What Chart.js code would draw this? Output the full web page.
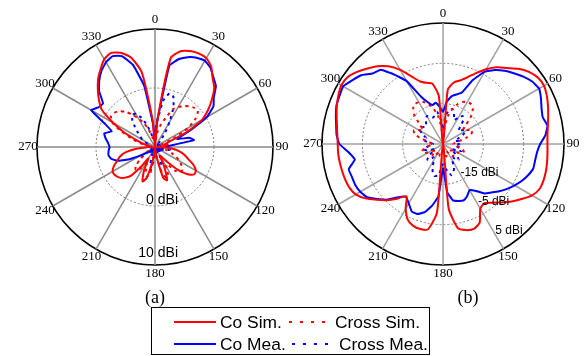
<!DOCTYPE html>
<html>
<head>
<meta charset="utf-8">
<script src="https://cdn.jsdelivr.net/npm/chart.js@4.4.1/dist/chart.umd.min.js"></script>
<style>
  html, body { margin: 0; padding: 0; background: #fff; }
  body { width: 584px; height: 356px; position: relative; overflow: hidden; font-family: "Liberation Sans", Arial, sans-serif; }
  #wrapA { position: absolute; left: 0; top: 0; }
  #wrapB { position: absolute; left: 292px; top: 0; }
  .cap { position: absolute; top: 286px; font: 18px "Liberation Serif", "Times New Roman", serif; transform: translateX(-50%); line-height: 22px; }
  #legend { position: absolute; left: 151px; top: 307px; width: 279px; height: 48px; border: 1px solid #000; box-sizing: border-box; }
  #legend .ln { position: absolute; height: 2px; }
  #legend .txt { position: absolute; font-size: 17.4px; line-height: 20px; white-space: nowrap; }
</style>
</head>
<body>
<div id="wrapA"><canvas id="chartA" width="300" height="290"></canvas></div>
<div id="wrapB"><canvas id="chartB" width="292" height="290"></canvas></div>
<div class="cap" style="left:155px">(a)</div>
<div class="cap" style="left:468px">(b)</div>
<div id="legend">
  <div class="ln" style="left:22px; top:13px; width:42px; background:#f00"></div>
  <div class="txt" style="left:68px; top:4px">Co Sim.</div>
  <div class="ln" style="left:137px; top:13px; width:38px; background:repeating-linear-gradient(to right,#f00 0 3px,transparent 3px 11px)"></div>
  <div class="txt" style="left:183px; top:4px">Cross Sim.</div>
  <div class="ln" style="left:22px; top:35px; width:42px; background:#00f"></div>
  <div class="txt" style="left:68px; top:26px">Co Mea.</div>
  <div class="ln" style="left:140px; top:35px; width:38px; background:repeating-linear-gradient(to right,#00f 0 3px,transparent 3px 11px)"></div>
  <div class="txt" style="left:187px; top:26px">Cross Mea.</div>
</div>
<script>
// Azimuth of each sample (degrees, clockwise from the top)
const angles = ['0','5','10','15','20','25','30','35','40','45','50','55',
  '60','65','70','75','80','85','90','95','100','105','110','115',
  '120','125','130','135','140','145','150','155','160','165','170','175',
  '180','185','190','195','200','205','210','215','220','225','230','235',
  '240','245','250','255','260','265','270','275','280','285','290','295',
  '300','305','310','315','320','325','330','335','340','345','350','355'];

// Spoke labels shown around each pattern
const spokeLabels = ['0','30','60','90','120','150','180','210','240','270','300','330'];

// Gain ring labels
const ringValuesA = [0, 10];
const ringLabelsA = ['0 dBi', '10 dBi'];
const ringValuesB = [-15, -5, 5];
const ringLabelsB = ['-15 dBi', '-5 dBi', '5 dBi'];

// Pattern (a), gain in dBi
const coSimA = [-10, -5.5, 5.3, 6.8, 7.3, 7.5, 7.4, 6.6, 5.2, 4.2, 2.6, 1.0,
  -0.8, -4.3, -7.5, -8.3, -7.8, -8.8, -9.6, -7.2, -5.8, -4.8, -4.0, -2.8,
  -2.0, -1.9, -2.8, -4.5, -6.5, -7.8, -8.3, -6.3, -4.0, -4.6, -8.0, -9.6,
  -10, -9.6, -7.5, -4.6, -3.8, -5.6, -7.8, -6.0, -3.6, -2.6, -2.0, -1.7,
  -1.7, -2.3, -3.2, -3.9, -5.0, -7.0, -8.8, -9.4, -8.8, -8.0, -6.8, -4.3,
  -1.8, 1.0, 2.4, 3.7, 5.0, 6.1, 7.2, 7.6, 7.0, 5.7, 2.8, -5.5];
const coMeaA = [-9, -5.5, 4.0, 5.4, 6.2, 6.7, 6.9, 6.4, 5.4, 4.6, 3.0, 2.1,
  0.2, -3.5, -6.0, -4.0, -3.3, -7.5, -8.6, -8.9, -8.7, -9.2, -8.7, -9.0,
  -9.3, -8.9, -9.4, -9.0, -9.5, -9.2, -9.6, -9.3, -9.0, -9.4, -9.1, -9.5,
  -9.2, -9.6, -9.3, -9.0, -9.4, -9.1, -9.5, -9.2, -8.9, -9.3, -8.8, -8.2,
  -7.0, -5.0, -3.2, -2.3, -2.0, -2.1, -2.3, -2.0, -1.5, -1.1, -2.2, -0.6,
  2.5, 1.7, 1.5, 3.4, 4.7, 5.8, 6.6, 7.0, 6.4, 4.4, 0.5, -6.0];
const crossSimA = [-10, -8.8, -7.2, -6.0, -4.8, -3.0, -2.2, -1.5, -1.0, -0.6, -0.5, -1.6,
  -3.5, -6.5, -8.8, -9.5, -9.2, -9.6, -9.8, -9.5, -9.0, -8.0, -7.0, -6.0,
  -5.2, -4.5, -4.0, -3.9, -4.8, -6.5, -6.2, -4.8, -4.4, -5.6, -8.0, -9.5,
  -10, -9.3, -5.5, -4.8, -5.3, -6.8, -6.6, -5.3, -4.9, -5.4, -6.6, -8.0,
  -9.0, -9.5, -9.8, -9.5, -9.2, -9.5, -9.8, -9.4, -8.5, -7.2, -5.8, -3.6,
  -1.6, -0.9, -1.0, -1.4, -2.2, -3.3, -4.5, -5.5, -6.8, -8.2, -9.0, -9.6];
const crossMeaA = [-8, -5.5, -2.0, -0.6, -0.9, -2.6, -5.0, -7.0, -8.5, -9.2, -8.8, -9.4,
  -9.0, -9.5, -9.2, -8.6, -9.3, -8.8, -8.2, -7.6, -7.4, -8.0, -8.8, -9.3,
  -9.0, -9.5, -9.2, -9.6, -9.3, -9.0, -8.6, -7.8, -6.9, -6.5, -8.0, -9.0,
  -9.5, -8.0, -6.2, -7.0, -8.5, -9.3, -9.6, -9.2, -9.5, -9.0, -9.4, -9.6,
  -9.3, -9.6, -9.4, -9.0, -9.5, -9.2, -9.6, -9.3, -9.0, -8.6, -8.9, -8.2,
  -7.5, -7.0, -6.2, -5.2, -4.0, -3.3, -3.5, -4.5, -6.0, -7.8, -8.6, -8.8];

// Pattern (b), gain in dBi
const coSimB = [-25, -11.5, -9.5, -8.7, -7.4, -5.6, -3.6, -1.8, -0.4, 1.4, 2.8, 3.7,
  3.9, 3.4, 2.7, 2.0, 1.4, 1.0, 0.9, 1.0, 1.2, 1.4, 1.5, 1.4,
  0.5, -1.2, -2.8, -4.5, -6.0, -7.1, -6.5, -3.5, -2.6, -2.9, -3.8, -9.0,
  -25, -8.0, -3.5, -3.2, -3.4, -4.3, -6.5, -9.2, -7.3, -5.3, -3.5, -1.5,
  0.0, 0.6, 0.8, 0.9, 1.0, 1.1, 1.1, 1.3, 1.7, 2.3, 3.0, 3.6,
  4.1, 3.9, 2.8, 1.5, 0.2, -1.5, -3.8, -6.5, -8.5, -9.3, -9.8, -13];
const coMeaB = [-17, -14.5, -13.0, -12.3, -11.5, -7.5, -4.3, -2.6, -1.3, -0.2, 1.0, 2.0,
  2.5, 1.8, 1.0, 0.6, 1.3, 0.5, -0.9, -1.6, -1.8, -1.8, -2.5, -3.4,
  -4.5, -5.6, -6.8, -8.0, -9.0, -10.8, -11.8, -10.8, -10.1, -10.4, -10.8, -13.0,
  -19.0, -12.0, -9.5, -7.5, -6.5, -6.6, -8.0, -9.0, -7.8, -5.5, -3.8, -2.0,
  -1.3, -1.0, -1.0, -0.8, -2.8, -1.5, 0.7, 1.5, 1.9, 2.5, 3.1, 3.3,
  3.6, 2.5, 1.5, -0.3, -1.0, -4.0, -7.0, -12.0, -14.0, -15.0, -14.6, -15.8];
const crossSimB = [-25, -21, -18, -16, -14.5, -13.5, -13, -12.9, -13.5, -15, -17.5, -19,
  -18, -17, -17.5, -19, -21, -22, -22.5, -22, -21, -20, -19.5, -19.8,
  -20.8, -22, -22.5, -21.5, -21, -21.5, -22.5, -23, -22.5, -21.8, -22.2, -23.5,
  -25, -23.5, -22.2, -21.8, -22.5, -23, -22.5, -21.5, -21, -21.5, -22.5, -22,
  -20.8, -19.8, -19.5, -20, -21, -22, -22.5, -22, -21, -19, -17.5, -17,
  -18, -19, -17.5, -15, -13.5, -12.9, -13, -13.5, -14.5, -16, -18, -21];
const crossMeaB = [-21, -18, -16.5, -16, -17, -18.5, -17.5, -16.5, -17, -19, -20, -19,
  -18.5, -19.5, -21, -22, -21, -20.5, -21, -22, -21.5, -20.5, -20, -21,
  -22.5, -22, -20.5, -19.5, -20, -21, -20.5, -18.5, -17.5, -17, -18, -19,
  -20, -18.5, -17, -16.8, -17.5, -19, -20.5, -21, -20, -19.5, -20.5, -22,
  -22.5, -21.5, -20.5, -20, -21, -22, -22.5, -21.5, -20.5, -20, -20.5, -19.5,
  -18.5, -18, -18.5, -19, -18.5, -17.5, -17, -17.5, -18, -17.5, -17, -19];

const RED = '#ff0000';
const BLUE = '#0000ff';

// Spoke numbers and gain ring captions, placed with the radial scale's own geometry
const polarText = {
  id: 'polarText',
  afterDraw(chart, args, o) {
    const s = chart.scales.r;
    const ctx = chart.ctx;
    ctx.save();
    ctx.fillStyle = '#000';
    ctx.font = '13px "Liberation Serif", "Times New Roman", serif';
    ctx.textAlign = 'center';
    ctx.textBaseline = 'middle';
    chart.data.labels.forEach((lab, i) => {
      if (!spokeLabels.includes(lab)) return;
      const p = s.getPointPosition(i, s.drawingArea + o.gap);
      ctx.fillText(lab, p.x, p.y);
    });
    ctx.font = o.ringFont;
    ctx.textAlign = o.ringAlign;
    const b = o.ringBearing * Math.PI / 180;
    o.ringValues.forEach((v, k) => {
      const r = s.getDistanceFromCenterForValue(v) * o.ringScale;
      const x = s.xCenter + r * Math.sin(b) + o.ringDx;
      const y = s.yCenter - r * Math.cos(b);
      ctx.fillText(o.ringLabels[k], x, y);
    });
    ctx.restore();
  }
};

function series(label, data, color, dotted, order, tension) {
  return {
    label, data, order,
    borderColor: color,
    borderWidth: 2,
    borderDash: dotted ? [3, 4] : [],
    fill: false,
    pointRadius: 0,
    tension
  };
}

function makePattern(id, sets, min, max, padding, look) {
  return new Chart(document.getElementById(id), {
    type: 'radar',
    data: { labels: angles, datasets: sets },
    options: {
      responsive: false,
      animation: false,
      events: [],
      layout: { padding },
      plugins: {
        legend: { display: false },
        tooltip: { enabled: false },
        polarText: look.text
      },
      scales: {
        r: {
          min, max,
          startAngle: 0,
          ticks: { display: false, stepSize: 10 },
          pointLabels: { display: false },
          angleLines: {
            color: look.spoke,
            lineWidth: c => (c.index % 6 === 0 ? 1.5 : 0)
          },
          grid: {
            circular: true,
            color: c => (c.tick && c.tick.value === max ? '#000' : '#7a7a7a'),
            lineWidth: c => (c.tick && c.tick.value === max ? 1.6 : 1)
          },
          border: {
            dash: c => (c.tick && c.tick.value === max ? [] : [2, 2])
          }
        }
      }
    },
    plugins: [polarText]
  });
}

makePattern('chartA', [
  series('Co Sim.', coSimA, RED, false, 0, 0.2),
  series('Co Mea.', coMeaA, BLUE, false, 1, 0.1),
  series('Cross Sim.', crossSimA, RED, true, 2, 0.2),
  series('Cross Mea.', crossMeaA, BLUE, true, 3, 0.1)
], -10, 10, { left: 37, right: 27, top: 29, bottom: 25 }, {
  spoke: '#8a8a8a',
  text: { gap: 9, ringValues: ringValuesA, ringLabels: ringLabelsA, ringFont: '14px "Liberation Sans", Arial, sans-serif',
          ringAlign: 'right', ringBearing: 180, ringScale: 0.9, ringDx: 23 }
});

makePattern('chartB', [
  series('Co Sim.', coSimB, RED, false, 0, 0.2),
  series('Co Mea.', coMeaB, BLUE, false, 1, 0.1),
  series('Cross Sim.', crossSimB, RED, true, 2, 0.2),
  series('Cross Mea.', crossMeaB, BLUE, true, 3, 0.1)
], -25, 5, { left: 30, right: 20, top: 23, bottom: 25 }, {
  spoke: '#a0a0a0',
  text: { gap: 9, ringValues: ringValuesB, ringLabels: ringLabelsB, ringFont: '12px "Liberation Sans", Arial, sans-serif',
          ringAlign: 'left', ringBearing: 149, ringScale: 0.84, ringDx: 0 }
});
</script>
</body>
</html>
